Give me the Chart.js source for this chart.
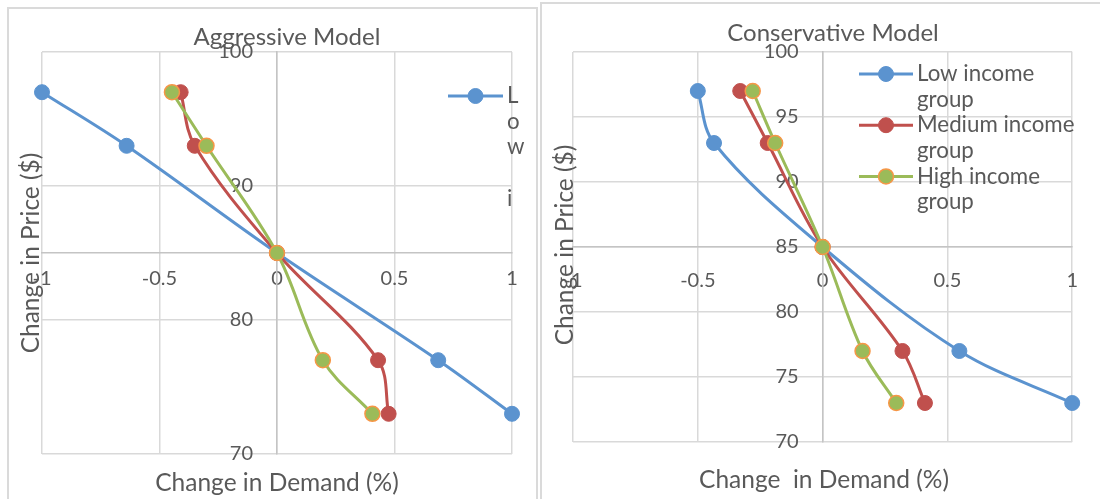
<!DOCTYPE html>
<html lang="en">
<head>
<meta charset="UTF-8" />
<title>Aggressive vs Conservative Model</title>
<script src="https://cdn.jsdelivr.net/npm/chart.js"></script>
<style>
  body { margin: 0; background: #fff; width: 1100px; height: 499px; overflow: hidden; position: relative; }
  .frame { position: absolute; border: 2px solid #dadada; box-sizing: border-box; }
  #frameLeft { left: 7px; top: 7px; width: 531px; height: 520px; }
  #frameRight { left: 540px; top: 2px; width: 600px; height: 520px; }
  canvas { position: absolute; top: 0; }
  #aggChart { left: 0; }
  #conChart { left: 539px; }
</style>
</head>
<body>
  <div class="frame" id="frameLeft"></div>
  <div class="frame" id="frameRight"></div>
  <canvas id="aggChart" width="539" height="499"></canvas>
  <canvas id="conChart" width="561" height="499"></canvas>

<script>
  // price points shared by every series (y values)
  const priceLevels = [97, 93, 85, 77, 73];

  // change in demand (x values)
  const aggLow  = [-1, -0.64, 0, 0.686, 1];
  const aggMed  = [-0.41, -0.35, 0, 0.43, 0.475];
  const aggHigh = [-0.447, -0.30, 0, 0.195, 0.406];

  const conLow  = [-0.50, -0.435, 0, 0.548, 1];
  const conMed  = [-0.33, -0.22, 0, 0.32, 0.41];
  const conHigh = [-0.28, -0.19, 0, 0.16, 0.295];

  const seriesNames = ['Low income group', 'Medium income group', 'High income group'];
  const xTicks = [-1, -0.5, 0, 0.5, 1];
  const aggYTicks = [70, 80, 90, 100];
  const conYTicks = [70, 75, 80, 85, 90, 95, 100];

  const lineColors = ['#5B93CF', '#C0504D', '#9BBB59'];
  const markerEdge = ['#5B93CF', '#C0504D', '#F79646'];
  const FONT = 'Lato, "Open Sans", sans-serif';
  const TEXT = '#595959';
  const Y_LABEL_GAP = 24;

  // y axis sits at x = 0; chart.js puts its labels flush on the line, so push them left a bit
  const yLabelGap = {
    id: 'yLabelGap',
    beforeDraw(chart) {
      const items = chart.scales.y.getLabelItems();
      if (items._shifted) return;
      items.forEach(it => { it.options.translation[0] -= Y_LABEL_GAP; });
      items._shifted = true;
    }
  };

  const textPlugin = {
    id: 'excelText',
    afterDraw(chart, args, o) {
      const ctx = chart.ctx;
      ctx.save();
      ctx.fillStyle = TEXT;
      ctx.textAlign = 'center';
      ctx.textBaseline = 'middle';

      ctx.font = '24px ' + FONT;
      ctx.fillText(o.title, o.titleX, o.titleY);

      ctx.font = '24.5px ' + FONT;
      ctx.fillText(o.xTitle, o.xTitleX, o.xTitleY);
      ctx.save();
      ctx.translate(o.yTitleX, o.yTitleY);
      ctx.rotate(-Math.PI / 2);
      ctx.fillText(o.yTitle, 0, 0);
      ctx.restore();

      // legend
      const lg = o.legend;
      ctx.font = '22.3px ' + FONT;
      ctx.textAlign = 'left';
      let row = 0;
      lg.items.forEach(i => {
        const y = lg.y + row * lg.rowH;
        ctx.strokeStyle = lineColors[i];
        ctx.lineWidth = 3;
        ctx.beginPath();
        ctx.moveTo(lg.x0, y);
        ctx.lineTo(lg.x1, y);
        ctx.stroke();
        ctx.beginPath();
        ctx.arc((lg.x0 + lg.x1) / 2, y, 7.5, 0, Math.PI * 2);
        ctx.fillStyle = lineColors[i];
        ctx.fill();
        ctx.lineWidth = i === 2 ? 1.5 : 1;
        ctx.strokeStyle = markerEdge[i];
        ctx.stroke();
        ctx.fillStyle = TEXT;
        let lines;
        if (lg.mode === 'chars') {
          lines = seriesNames[i].split('').slice(0, lg.maxRows);
        } else {
          const cut = seriesNames[i].lastIndexOf(' ');
          lines = [seriesNames[i].slice(0, cut), seriesNames[i].slice(cut + 1)];
        }
        lines.forEach((t, k) => ctx.fillText(t, lg.textX, y + k * lg.rowH));
        row += lines.length;
      });
      ctx.restore();
    }
  };

  function buildChart(id, series, yTicks, yMin, yMax, pad, xPad, texts) {
    const datasets = series.map((xs, i) => ({
      label: seriesNames[i],
      data: xs.map((x, k) => ({ x: x, y: priceLevels[k] })),
      showLine: true,
      borderColor: lineColors[i],
      backgroundColor: lineColors[i],
      pointBackgroundColor: lineColors[i],
      pointBorderColor: markerEdge[i],
      pointBorderWidth: i === 2 ? 1.5 : 1,
      pointRadius: 7.5,
      borderWidth: 3,
      tension: 0.35,
      order: 3 - i,
      clip: false
    }));

    const tickFont = { family: FONT, size: 20 };

    return new Chart(document.getElementById(id), {
      type: 'scatter',
      data: { datasets: datasets },
      options: {
        responsive: false,
        animation: false,
        layout: { padding: pad },
        plugins: {
          legend: { display: false },
          tooltip: { enabled: false },
          excelText: texts
        },
        scales: {
          x: {
            type: 'linear', min: -1, max: 1,
            position: { y: 85 },
            afterBuildTicks: s => { s.ticks = xTicks.map(v => ({ value: v })); },
            grid: { color: '#d9d9d9', lineWidth: 1.5, drawTicks: false },
            border: { color: '#c4c4c4', width: 1.5 },
            ticks: { padding: xPad, color: TEXT, font: tickFont, maxRotation: 0, callback: v => String(v) }
          },
          y: {
            type: 'linear', min: yMin, max: yMax,
            position: { x: 0 },
            afterBuildTicks: s => { s.ticks = yTicks.map(v => ({ value: v })); },
            grid: { color: '#d9d9d9', lineWidth: 1.5, drawTicks: false },
            border: { color: '#c4c4c4', width: 1.5 },
            ticks: { color: TEXT, font: tickFont, callback: v => String(v) }
          }
        }
      },
      plugins: [yLabelGap, textPlugin]
    });
  }

  buildChart('aggChart', [aggLow, aggMed, aggHigh], aggYTicks, 70, 100,
    { left: 42, right: 27, top: 52, bottom: 45 }, 14, {
      title: 'Aggressive Model', titleX: 287, titleY: 37,
      xTitle: 'Change in Demand (%)', xTitleX: 277, xTitleY: 483,
      yTitle: 'Change in Price ($)', yTitleX: 31, yTitleY: 253,
      legend: { mode: 'chars', maxRows: 5, items: [0], x0: 448, x1: 503, y: 96, textX: 507, rowH: 25.6 }
    });

  buildChart('conChart', [conLow, conMed, conHigh], conYTicks, 70, 100,
    { left: 34, right: 25, top: 52, bottom: 57 }, 22, {
      title: 'Conservative Model', titleX: 294, titleY: 33,
      xTitle: 'Change  in Demand (%)', xTitleX: 285, xTitleY: 480,
      yTitle: 'Change in Price ($)', yTitleX: 26, yTitleY: 245,
      legend: { mode: 'words', items: [0, 1, 2], x0: 320, x1: 374, y: 74, textX: 378, rowH: 25.6 }
    });
</script>
</body>
</html>
